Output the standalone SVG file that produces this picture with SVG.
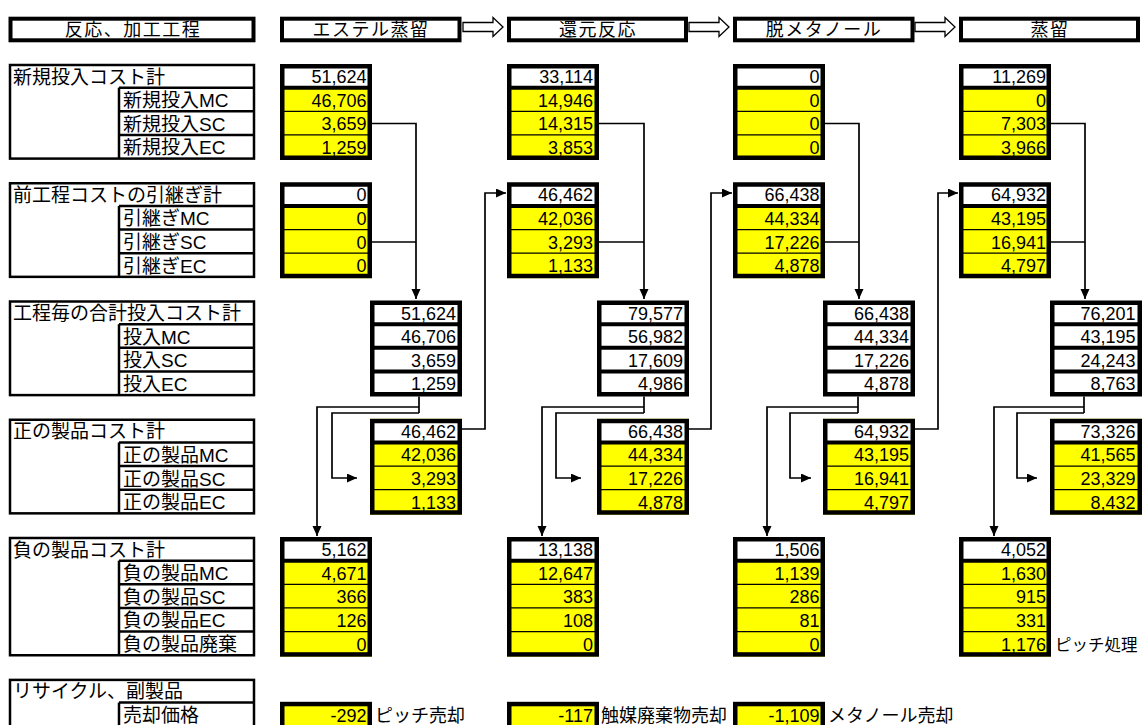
<svg xmlns="http://www.w3.org/2000/svg" xmlns:xlink="http://www.w3.org/1999/xlink" width="1142" height="725" viewBox="0 0 1142 725">
<style>
text{font-family:"Liberation Sans","Noto Sans CJK JP",sans-serif;fill:#000}
.j{font-size:19px}
.s{font-size:18px}
.h{font-size:18px;letter-spacing:1.5px;text-anchor:middle}
.n{font-size:18px;text-anchor:end}
.lb{fill:none;stroke:#000;stroke-width:2.5}
.ll{stroke:#000;stroke-width:2.5}
.vb{fill:none;stroke:#000;stroke-width:4.5}
.hb{fill:#fff;stroke:#000;stroke-width:4}
.tk{stroke:#000;stroke-width:4}
.tn{stroke:#000;stroke-width:1.3}
.ha{fill:#fff;stroke:#000;stroke-width:1.3}
#connectors path{fill:none;stroke:#000;stroke-width:1.7}
</style>
<defs>
<marker id="ah" markerUnits="userSpaceOnUse" markerWidth="11" markerHeight="10" refX="10" refY="4.5" orient="auto">
<path d="M0,0 L10,4.5 L0,9 z" fill="#000"/>
</marker>
<g id="bY4">
<rect width="92" height="96" fill="#ffff00"/>
<rect width="92" height="23.65" fill="#fff"/>
<line class="tk" x1="0" x2="92" y1="23.65" y2="23.65"/>
<line class="tn" x1="0" x2="92" y1="47.3" y2="47.3"/>
<line class="tn" x1="0" x2="92" y1="70.95" y2="70.95"/>
<rect class="vb" x="2.25" y="2.25" width="87.5" height="91.5"/>
</g>
<g id="bW4">
<rect width="92" height="96" fill="#fff"/>
<line class="tk" x1="0" x2="92" y1="23.65" y2="23.65"/>
<line class="tk" x1="0" x2="92" y1="47.3" y2="47.3"/>
<line class="tk" x1="0" x2="92" y1="70.95" y2="70.95"/>
<rect class="vb" x="2.25" y="2.25" width="87.5" height="91.5"/>
</g>
<g id="bY5">
<rect width="92" height="119.7" fill="#ffff00"/>
<rect width="92" height="23.65" fill="#fff"/>
<line class="tk" x1="0" x2="92" y1="23.65" y2="23.65"/>
<line class="tn" x1="0" x2="92" y1="47.3" y2="47.3"/>
<line class="tn" x1="0" x2="92" y1="70.95" y2="70.95"/>
<line class="tn" x1="0" x2="92" y1="94.6" y2="94.6"/>
<rect class="vb" x="2.25" y="2.25" width="87.5" height="115.2"/>
</g>
<g id="bY1">
<rect width="92" height="26" fill="#ffff00"/>
<rect class="vb" x="2.25" y="1.5" width="87.5" height="30"/>
</g>
</defs>
<rect width="1142" height="725" fill="#fff"/>

<!-- headers -->
<g id="hdr-label"><rect class="hb" x="10.5" y="18.7" width="243" height="21.6"/><text class="h" x="133" y="35.5">反応、加工工程</text></g>
<g id="hdr-1"><rect class="hb" x="282" y="18.7" width="177.5" height="21.6"/><text class="h" x="371" y="35.5">エステル蒸留</text></g>
<g id="hdr-2"><rect class="hb" x="509" y="18.7" width="177" height="21.6"/><text class="h" x="598" y="35.5">還元反応</text></g>
<g id="hdr-3"><rect class="hb" x="735" y="18.7" width="177.5" height="21.6"/><text class="h" x="824" y="35.5">脱メタノール</text></g>
<g id="hdr-4"><rect class="hb" x="961" y="18.7" width="177" height="21.6"/><text class="h" x="1050" y="35.5">蒸留</text></g>
<g id="hdr-arrows">
<polygon class="ha" points="463,22.5 493,22.5 493,17.5 503,27 493,36.5 493,31.5 463,31.5"/>
<polygon class="ha" points="689,22.5 719,22.5 719,17.5 729,27 719,36.5 719,31.5 689,31.5"/>
<polygon class="ha" points="915,22.5 945,22.5 945,17.5 955,27 945,36.5 945,31.5 915,31.5"/>
</g>

<!-- label column -->
<g id="lbl-g1">
<rect class="lb" x="10" y="65" width="244" height="93.6"/>
<line class="ll" x1="119" x2="119" y1="87.65" y2="158.6"/>
<line class="ll" x1="119" x2="255" y1="87.65" y2="87.65"/>
<line class="ll" x1="119" x2="255" y1="111.3" y2="111.3"/>
<line class="ll" x1="119" x2="255" y1="134.95" y2="134.95"/>
<text class="j" x="13" y="83.5">新規投入コスト計</text>
<text class="j" x="123" y="107.15">新規投入MC</text>
<text class="j" x="123" y="130.8">新規投入SC</text>
<text class="j" x="123" y="154.45">新規投入EC</text>
</g>
<g id="lbl-g2">
<rect class="lb" x="10" y="183.25" width="244" height="93.6"/>
<line class="ll" x1="119" x2="119" y1="205.9" y2="276.85"/>
<line class="ll" x1="119" x2="255" y1="205.9" y2="205.9"/>
<line class="ll" x1="119" x2="255" y1="229.55" y2="229.55"/>
<line class="ll" x1="119" x2="255" y1="253.2" y2="253.2"/>
<text class="j" x="13" y="201.75">前工程コストの引継ぎ計</text>
<text class="j" x="123" y="225.4">引継ぎMC</text>
<text class="j" x="123" y="249.05">引継ぎSC</text>
<text class="j" x="123" y="272.7">引継ぎEC</text>
</g>
<g id="lbl-g3">
<rect class="lb" x="10" y="301.5" width="244" height="93.6"/>
<line class="ll" x1="119" x2="119" y1="324.15" y2="395.1"/>
<line class="ll" x1="119" x2="255" y1="324.15" y2="324.15"/>
<line class="ll" x1="119" x2="255" y1="347.8" y2="347.8"/>
<line class="ll" x1="119" x2="255" y1="371.45" y2="371.45"/>
<text class="j" x="13" y="320">工程毎の合計投入コスト計</text>
<text class="j" x="123" y="343.65">投入MC</text>
<text class="j" x="123" y="367.3">投入SC</text>
<text class="j" x="123" y="390.95">投入EC</text>
</g>
<g id="lbl-g4">
<rect class="lb" x="10" y="419.75" width="244" height="93.6"/>
<line class="ll" x1="119" x2="119" y1="442.4" y2="513.35"/>
<line class="ll" x1="119" x2="255" y1="442.4" y2="442.4"/>
<line class="ll" x1="119" x2="255" y1="466.05" y2="466.05"/>
<line class="ll" x1="119" x2="255" y1="489.7" y2="489.7"/>
<text class="j" x="13" y="438.25">正の製品コスト計</text>
<text class="j" x="123" y="461.9">正の製品MC</text>
<text class="j" x="123" y="485.55">正の製品SC</text>
<text class="j" x="123" y="509.2">正の製品EC</text>
</g>
<g id="lbl-g5">
<rect class="lb" x="10" y="538" width="244" height="117.25"/>
<line class="ll" x1="119" x2="119" y1="560.65" y2="655.25"/>
<line class="ll" x1="119" x2="255" y1="560.65" y2="560.65"/>
<line class="ll" x1="119" x2="255" y1="584.3" y2="584.3"/>
<line class="ll" x1="119" x2="255" y1="607.95" y2="607.95"/>
<line class="ll" x1="119" x2="255" y1="631.6" y2="631.6"/>
<text class="j" x="13" y="556.5">負の製品コスト計</text>
<text class="j" x="123" y="580.15">負の製品MC</text>
<text class="j" x="123" y="603.8">負の製品SC</text>
<text class="j" x="123" y="627.45">負の製品EC</text>
<text class="j" x="123" y="651.1">負の製品廃棄</text>
</g>
<g id="lbl-g6">
<rect class="lb" x="10" y="679.9" width="244" height="50"/>
<line class="ll" x1="119" x2="119" y1="702.55" y2="726"/>
<line class="ll" x1="119" x2="255" y1="702.55" y2="702.55"/>
<text class="j" x="13" y="698.4">リサイクル、副製品</text>
<text class="j" x="123" y="722">売却価格</text>
</g>

<!-- connectors -->
<g id="connectors">
<path d="M372,123.5 H416 V299" marker-end="url(#ah)"/>
<path d="M372,242 H416"/>
<path d="M419,396 V413 M419,407 H317 V536" marker-end="url(#ah)"/>
<path d="M419,413 H332 V478 H357" marker-end="url(#ah)"/>
<path d="M461,429 H485 V193 H506" marker-end="url(#ah)"/>

<path d="M598,123.5 H644 V299" marker-end="url(#ah)"/>
<path d="M598,242 H644"/>
<path d="M644,396 V413 M644,407 H542 V536" marker-end="url(#ah)"/>
<path d="M644,413 H556 V478 H581" marker-end="url(#ah)"/>
<path d="M688,429 H711 V193 H732" marker-end="url(#ah)"/>

<path d="M824,123.5 H859 V299" marker-end="url(#ah)"/>
<path d="M824,242 H859"/>
<path d="M858,396 V413 M858,407 H767 V536" marker-end="url(#ah)"/>
<path d="M858,413 H790 V478 H811" marker-end="url(#ah)"/>
<path d="M914,429 H938 V193 H958" marker-end="url(#ah)"/>

<path d="M1051,123.5 H1085 V299" marker-end="url(#ah)"/>
<path d="M1051,242 H1085"/>
<path d="M1084,396 V413 M1084,407 H994 V536" marker-end="url(#ah)"/>
<path d="M1084,413 H1017 V478 H1037" marker-end="url(#ah)"/>
</g>

<!-- column 1 -->
<g id="c1-new"><use xlink:href="#bY4" x="280" y="64"/>
<text class="n" x="366.5" y="83">51,624</text><text class="n" x="366.5" y="106.65">46,706</text><text class="n" x="366.5" y="130.3">3,659</text><text class="n" x="366.5" y="153.95">1,259</text></g>
<g id="c1-carry"><use xlink:href="#bY4" x="280" y="182.25"/>
<text class="n" x="366.5" y="201.25">0</text><text class="n" x="366.5" y="224.9">0</text><text class="n" x="366.5" y="248.55">0</text><text class="n" x="366.5" y="272.2">0</text></g>
<g id="c1-total"><use xlink:href="#bW4" x="370" y="300.5"/>
<text class="n" x="456" y="319.5">51,624</text><text class="n" x="456" y="343.15">46,706</text><text class="n" x="456" y="366.8">3,659</text><text class="n" x="456" y="390.45">1,259</text></g>
<g id="c1-pos"><use xlink:href="#bY4" x="370" y="418.75"/>
<text class="n" x="456" y="437.75">46,462</text><text class="n" x="456" y="461.4">42,036</text><text class="n" x="456" y="485.05">3,293</text><text class="n" x="456" y="508.7">1,133</text></g>
<g id="c1-neg"><use xlink:href="#bY5" x="280" y="537"/>
<text class="n" x="366.5" y="556">5,162</text><text class="n" x="366.5" y="579.65">4,671</text><text class="n" x="366.5" y="603.3">366</text><text class="n" x="366.5" y="626.95">126</text><text class="n" x="366.5" y="650.6">0</text></g>
<g id="c1-sale"><use xlink:href="#bY1" x="280" y="702.55"/>
<text class="n" x="366.5" y="721.55">-292</text><text class="s" x="375" y="721.55">ピッチ売却</text></g>

<!-- column 2 -->
<g id="c2-new"><use xlink:href="#bY4" x="507" y="64"/>
<text class="n" x="593" y="83">33,114</text><text class="n" x="593" y="106.65">14,946</text><text class="n" x="593" y="130.3">14,315</text><text class="n" x="593" y="153.95">3,853</text></g>
<g id="c2-carry"><use xlink:href="#bY4" x="507" y="182.25"/>
<text class="n" x="593" y="201.25">46,462</text><text class="n" x="593" y="224.9">42,036</text><text class="n" x="593" y="248.55">3,293</text><text class="n" x="593" y="272.2">1,133</text></g>
<g id="c2-total"><use xlink:href="#bW4" x="597" y="300.5"/>
<text class="n" x="683" y="319.5">79,577</text><text class="n" x="683" y="343.15">56,982</text><text class="n" x="683" y="366.8">17,609</text><text class="n" x="683" y="390.45">4,986</text></g>
<g id="c2-pos"><use xlink:href="#bY4" x="597" y="418.75"/>
<text class="n" x="683" y="437.75">66,438</text><text class="n" x="683" y="461.4">44,334</text><text class="n" x="683" y="485.05">17,226</text><text class="n" x="683" y="508.7">4,878</text></g>
<g id="c2-neg"><use xlink:href="#bY5" x="507" y="537"/>
<text class="n" x="593" y="556">13,138</text><text class="n" x="593" y="579.65">12,647</text><text class="n" x="593" y="603.3">383</text><text class="n" x="593" y="626.95">108</text><text class="n" x="593" y="650.6">0</text></g>
<g id="c2-sale"><use xlink:href="#bY1" x="507" y="702.55"/>
<text class="n" x="593" y="721.55">-117</text><text class="s" x="601" y="721.55">触媒廃棄物売却</text></g>

<!-- column 3 -->
<g id="c3-new"><use xlink:href="#bY4" x="733" y="64"/>
<text class="n" x="819.5" y="83">0</text><text class="n" x="819.5" y="106.65">0</text><text class="n" x="819.5" y="130.3">0</text><text class="n" x="819.5" y="153.95">0</text></g>
<g id="c3-carry"><use xlink:href="#bY4" x="733" y="182.25"/>
<text class="n" x="819.5" y="201.25">66,438</text><text class="n" x="819.5" y="224.9">44,334</text><text class="n" x="819.5" y="248.55">17,226</text><text class="n" x="819.5" y="272.2">4,878</text></g>
<g id="c3-total"><use xlink:href="#bW4" x="823" y="300.5"/>
<text class="n" x="909" y="319.5">66,438</text><text class="n" x="909" y="343.15">44,334</text><text class="n" x="909" y="366.8">17,226</text><text class="n" x="909" y="390.45">4,878</text></g>
<g id="c3-pos"><use xlink:href="#bY4" x="823" y="418.75"/>
<text class="n" x="909" y="437.75">64,932</text><text class="n" x="909" y="461.4">43,195</text><text class="n" x="909" y="485.05">16,941</text><text class="n" x="909" y="508.7">4,797</text></g>
<g id="c3-neg"><use xlink:href="#bY5" x="733" y="537"/>
<text class="n" x="819.5" y="556">1,506</text><text class="n" x="819.5" y="579.65">1,139</text><text class="n" x="819.5" y="603.3">286</text><text class="n" x="819.5" y="626.95">81</text><text class="n" x="819.5" y="650.6">0</text></g>
<g id="c3-sale"><use xlink:href="#bY1" x="733" y="702.55"/>
<text class="n" x="819.5" y="721.55">-1,109</text><text class="s" x="828" y="721.55">メタノール売却</text></g>

<!-- column 4 -->
<g id="c4-new"><use xlink:href="#bY4" x="959" y="64"/>
<text class="n" x="1046" y="83">11,269</text><text class="n" x="1046" y="106.65">0</text><text class="n" x="1046" y="130.3">7,303</text><text class="n" x="1046" y="153.95">3,966</text></g>
<g id="c4-carry"><use xlink:href="#bY4" x="959" y="182.25"/>
<text class="n" x="1046" y="201.25">64,932</text><text class="n" x="1046" y="224.9">43,195</text><text class="n" x="1046" y="248.55">16,941</text><text class="n" x="1046" y="272.2">4,797</text></g>
<g id="c4-total"><use xlink:href="#bW4" x="1050" y="300.5"/>
<text class="n" x="1135.5" y="319.5">76,201</text><text class="n" x="1135.5" y="343.15">43,195</text><text class="n" x="1135.5" y="366.8">24,243</text><text class="n" x="1135.5" y="390.45">8,763</text></g>
<g id="c4-pos"><use xlink:href="#bY4" x="1050" y="418.75"/>
<text class="n" x="1135.5" y="437.75">73,326</text><text class="n" x="1135.5" y="461.4">41,565</text><text class="n" x="1135.5" y="485.05">23,329</text><text class="n" x="1135.5" y="508.7">8,432</text></g>
<g id="c4-neg"><use xlink:href="#bY5" x="959" y="537"/>
<text class="n" x="1046" y="556">4,052</text><text class="n" x="1046" y="579.65">1,630</text><text class="n" x="1046" y="603.3">915</text><text class="n" x="1046" y="626.95">331</text><text class="n" x="1046" y="650.6">1,176</text>
<text x="1055" y="650.6" style="font-size:16.5px">ピッチ処理</text></g>
</svg>
